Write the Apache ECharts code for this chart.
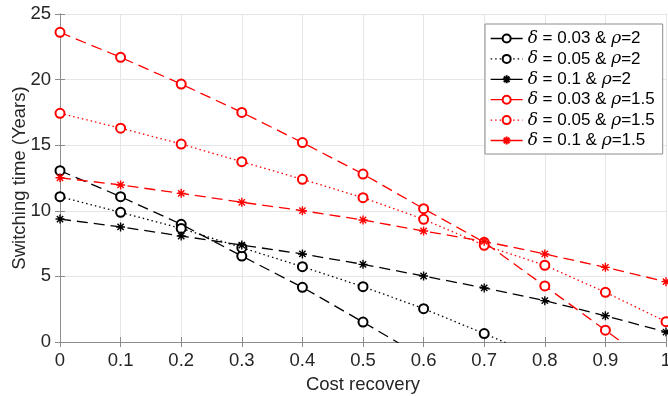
<!DOCTYPE html>
<html>
<head>
<meta charset="utf-8">
<script src="https://cdn.jsdelivr.net/npm/echarts@6/dist/echarts.min.js"></script>
<style>
  html, body { margin: 0; padding: 0; background: #fff; }
  #chart { width: 668px; height: 396px; }
</style>
</head>
<body>
<div id="chart"></div>
<script>
// Cost recovery share (x axis)
const costRecovery = [0, 0.1, 0.2, 0.3, 0.4, 0.5, 0.6, 0.7, 0.8, 0.9, 1];
const xTickLabels = ['0', '0.1', '0.2', '0.3', '0.4', '0.5', '0.6', '0.7', '0.8', '0.9', '1'];

// Switching time in years, one array per (delta, rho) pair
const d003rho2   = [13.06, 11.08, 8.97, 6.55, 4.17, 1.52, -1.2, null, null, null, null];
const d005rho2   = [11.08, 9.88, 8.66, 7.19, 5.74, 4.22, 2.54, 0.64, -1.3, null, null];
const d01rho2    = [9.37, 8.77, 8.08, 7.39, 6.71, 5.92, 5.03, 4.12, 3.15, 2.0, 0.76];
const d003rho15  = [23.6, 21.7, 19.66, 17.5, 15.2, 12.8, 10.16, 7.6, 4.27, 0.9, -2.5];
const d005rho15  = [17.43, 16.3, 15.09, 13.74, 12.4, 11.0, 9.35, 7.37, 5.85, 3.79, 1.55];
const d01rho15   = [12.52, 11.97, 11.33, 10.65, 10.01, 9.3, 8.46, 7.67, 6.71, 5.69, 4.6];

const seriesNames = [
  'δ = 0.03 & ρ=2',
  'δ = 0.05 & ρ=2',
  'δ = 0.1 & ρ=2',
  'δ = 0.03 & ρ=1.5',
  'δ = 0.05 & ρ=1.5',
  'δ = 0.1 & ρ=1.5'
];

const yTicks = [0, 5, 10, 15, 20, 25];

const FONT = '"Liberation Sans", Arial, Helvetica, sans-serif';
const TEXT = '#262626';
const FRAME = '#8c8c8c';

// asterisk marker: vertical, horizontal and both diagonals
const STAR = 'path://M5,0L5,10M0,5L10,5M1.5,1.5L8.5,8.5M1.5,8.5L8.5,1.5';
const DASH = [11, 6];
const DOT = [1.5, 3];

function pairs(values) {
  return costRecovery.map((x, i) => [x, values[i]]);
}

function makeSeries(name, values, color, dash, marker) {
  const isStar = marker === 'star';
  return {
    name: name,
    type: 'line',
    data: pairs(values),
    clip: true,
    connectNulls: false,
    symbol: isStar ? STAR : 'emptyCircle',
    symbolSize: 9,
    showAllSymbol: true,
    lineStyle: { color: color, width: 1.3, type: dash },
    itemStyle: { color: color, borderColor: color, borderWidth: isStar ? 1.4 : 1.3 },
    emphasis: { disabled: true },
    animation: false
  };
}

const chart = echarts.init(document.getElementById('chart'), null, { renderer: 'canvas' });

const legendRich = {
  g: { fontFamily: '"DejaVu Serif", "Liberation Serif", serif', fontStyle: 'italic', fontSize: 17, color: '#000', lineHeight: 18 },
  t: { fontFamily: FONT, fontSize: 17, color: '#000', lineHeight: 18 }
};

function legendLabel(name) {
  // italicise the Greek symbols
  const parts = name.split(/([δρ])/).filter(s => s.length);
  return parts.map(p => (p === 'δ' || p === 'ρ') ? '{g|' + p + '}' : '{t|' + p + '}').join('');
}

const option = {
  backgroundColor: '#fff',
  animation: false,
  grid: { left: 60, right: 2, top: 14, bottom: 54, containLabel: false, outerBoundsMode: 'none' },
  xAxis: [
    {
      type: 'value',
      min: 0, max: 1, interval: 0.1,
      name: 'Cost recovery',
      nameLocation: 'middle',
      nameGap: 33,
      nameMoveOverlap: false,
      nameTextStyle: { fontFamily: FONT, fontSize: 18.5, color: TEXT },
      axisLine: { show: true, lineStyle: { color: FRAME, width: 1 } },
      axisTick: { show: true, inside: true, length: 5, lineStyle: { color: FRAME } },
      axisLabel: {
        fontFamily: FONT, fontSize: 18.5, color: TEXT, margin: 9,
        formatter: (v) => xTickLabels[Math.round(v * 10)] || ''
      },
      splitLine: { show: true, lineStyle: { color: '#e6e6e6', width: 1 } }
    },
    {
      type: 'value',
      position: 'top',
      min: 0, max: 1, interval: 0.1,
      axisLine: { show: true, lineStyle: { color: FRAME, width: 1 } },
      axisTick: { show: true, inside: true, length: 5, lineStyle: { color: FRAME } },
      axisLabel: { show: false },
      splitLine: { show: false }
    }
  ],
  yAxis: [
    {
      type: 'value',
      min: 0, max: 25, interval: 5,
      name: 'Switching time (Years)',
      nameLocation: 'middle',
      nameGap: 31,
      nameMoveOverlap: false,
      nameTextStyle: { fontFamily: FONT, fontSize: 18.5, color: TEXT },
      axisLine: { show: true, lineStyle: { color: FRAME, width: 1 } },
      axisTick: { show: true, inside: true, length: 5, lineStyle: { color: FRAME } },
      axisLabel: { fontFamily: FONT, fontSize: 18.5, color: TEXT, margin: 9,
        formatter: (v) => yTicks.includes(v) ? String(v) : '' },
      splitLine: { show: true, lineStyle: { color: '#e6e6e6', width: 1 } }
    },
    {
      type: 'value',
      position: 'right',
      min: 0, max: 25, interval: 5,
      axisLine: { show: true, lineStyle: { color: FRAME, width: 1 } },
      axisTick: { show: true, inside: true, length: 5, lineStyle: { color: FRAME } },
      axisLabel: { show: false },
      splitLine: { show: false }
    }
  ],
  legend: {
    left: 485,
    top: 24,
    width: 177,
    orient: 'vertical',
    backgroundColor: '#fff',
    borderColor: '#8c8c8c',
    borderWidth: 1,
    padding: [6, 8, 5, 5],
    itemWidth: 32,
    itemHeight: 10,
    itemGap: 3.4,
    selectedMode: false,
    textStyle: { rich: legendRich },
    formatter: legendLabel,
    data: seriesNames.map((n, i) => ({
      name: n,
      lineStyle: { type: i === 1 || i === 4 ? DOT : 'solid', width: 1.3 }
    }))
  },
  series: [
    makeSeries(seriesNames[0], d003rho2, '#000000', DASH, 'circle'),
    makeSeries(seriesNames[1], d005rho2, '#000000', DOT, 'circle'),
    makeSeries(seriesNames[2], d01rho2, '#000000', DASH, 'star'),
    makeSeries(seriesNames[3], d003rho15, '#ff0000', DASH, 'circle'),
    makeSeries(seriesNames[4], d005rho15, '#ff0000', DOT, 'circle'),
    makeSeries(seriesNames[5], d01rho15, '#ff0000', DASH, 'star')
  ]
};

chart.setOption(option);
</script>
</body>
</html>
